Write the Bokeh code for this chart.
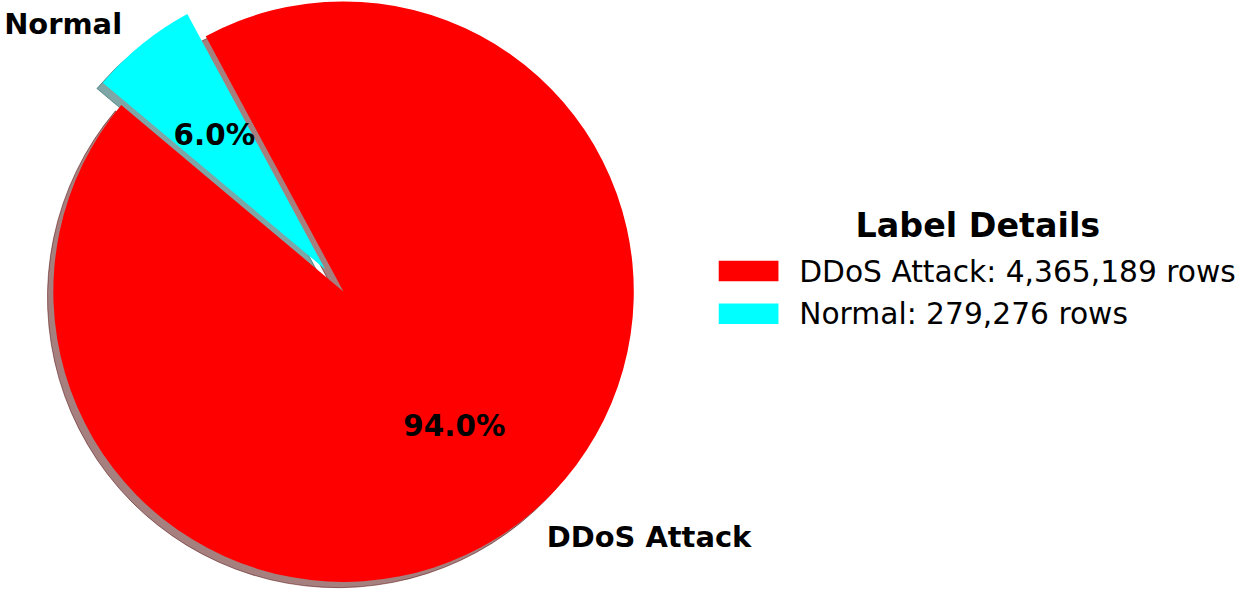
import math
from bokeh.plotting import figure
from bokeh.models import Range1d, ColumnDataSource
from bokeh.embed import file_html
from bokeh.resources import INLINE
from bokeh.core.properties import value

# ---- data ----
categories = ["DDoS Attack", "Normal"]
counts = [4365189, 279276]
colors = ["#ff0000", "#00ffff"]
shadow_colors = ["#4d0000", "#004d4d"]
explode = [0.0, 0.1]
legend_title = "Label Details"

# ---- layout: data units = reference pixels (y up: data y = 610 - ref y) ----
W, H = 1239, 594
REF_W, REF_H = 1255, 610
SX, SY = W / REF_W, H / REF_H          # screen px per data unit
CX, CY, R = 347.5, REF_H - 299.0, 296.0
START_DEG = 140.0
FONT = value("DejaVu Sans")
K = (SX + SY) / 2
FS_LABEL, FS_PCT, FS_LEG, FS_TITLE = 29.5 * K, 30 * K, 30.3 * K, 34 * K

p = figure(width=W, height=H, output_backend="svg", toolbar_location=None,
           x_range=Range1d(0, REF_W), y_range=Range1d(0, REF_H),
           min_border=0, outline_line_color=None,
           x_axis_location=None, y_axis_location=None,
           background_fill_color="white", border_fill_color="white")
p.xgrid.visible = False
p.ygrid.visible = False

total = float(sum(counts))
wx, wy, s_ang, e_ang = [], [], [], []
lab_x, lab_y, lab_align = [], [], []
pct_x, pct_y, pct_txt = [], [], []
t1 = START_DEG
for cat, c, ex in zip(categories, counts, explode):
    frac = c / total
    t2 = t1 + 360.0 * frac
    mid = math.radians((t1 + t2) / 2)
    cx = CX + ex * R * math.cos(mid)
    cy = CY + ex * R * math.sin(mid)
    wx.append(cx); wy.append(cy)
    s_ang.append(math.radians(t1)); e_ang.append(math.radians(t2))
    lab_x.append(cx + 1.1 * R * math.cos(mid))
    lab_y.append(cy + 1.1 * R * math.sin(mid))
    lab_align.append("left" if math.cos(mid) > 0 else "right")
    pct_x.append(cx + 0.6 * R * math.cos(mid))
    pct_y.append(cy + 0.6 * R * math.sin(mid))
    pct_txt.append(f"{100 * frac:.1f}%")
    t1 = t2

R_SCREEN = R * K
src = ColumnDataSource(dict(x=wx, y=wy, sx=[v - 0.02 * R for v in wx],
                            sy=[v - 0.02 * R for v in wy],
                            s=s_ang, e=e_ang, color=colors, scolor=shadow_colors))

# shadows
p.wedge(x="sx", y="sy", radius=R_SCREEN, radius_units="screen",
        start_angle="s", end_angle="e", source=src,
        fill_color="scolor", fill_alpha=0.5, line_color="scolor", line_alpha=0.5,
        line_width=1)
# wedges
p.wedge(x="x", y="y", radius=R_SCREEN, radius_units="screen",
        start_angle="s", end_angle="e", source=src,
        fill_color="color", line_color=None)

# outer labels
p.text(x=lab_x, y=lab_y, text=categories, text_align=lab_align,
       text_baseline="alphabetic", text_font=FONT, text_font_style="bold",
       text_font_size=f"{FS_LABEL:.2f}px", text_color="black")
# percentage labels
p.text(x=pct_x, y=pct_y, text=pct_txt, text_align="center",
       text_baseline="alphabetic", text_font=FONT, text_font_style="bold",
       text_font_size=f"{FS_PCT:.2f}px", text_color="black")

# legend (manual)
LEG_X0, LEG_W, LEG_H = 727.5, 60.5, 21.0
LEG_ROW_Y = [REF_H - 277.8, REF_H - 321.7]
LEG_TEXT_X = 809.0
leg_labels = [f"{c}: {n:,} rows" for c, n in zip(categories, counts)]
p.rect(x=[LEG_X0 + LEG_W / 2] * len(categories), y=LEG_ROW_Y, width=LEG_W,
       height=LEG_H, fill_color=colors, line_color=None)
p.text(x=[LEG_TEXT_X] * len(categories), y=LEG_ROW_Y, text=leg_labels,
       text_align="left", text_baseline="alphabetic", text_font=FONT,
       text_font_size=f"{FS_LEG:.2f}px", text_color="black")
p.text(x=[990.0], y=[REF_H - 231.0], text=[legend_title], text_align="center",
       text_baseline="alphabetic", text_font=FONT, text_font_style="bold",
       text_font_size=f"{FS_TITLE:.2f}px", text_color="black")

open("out.html", "w").write(file_html(p, INLINE))
